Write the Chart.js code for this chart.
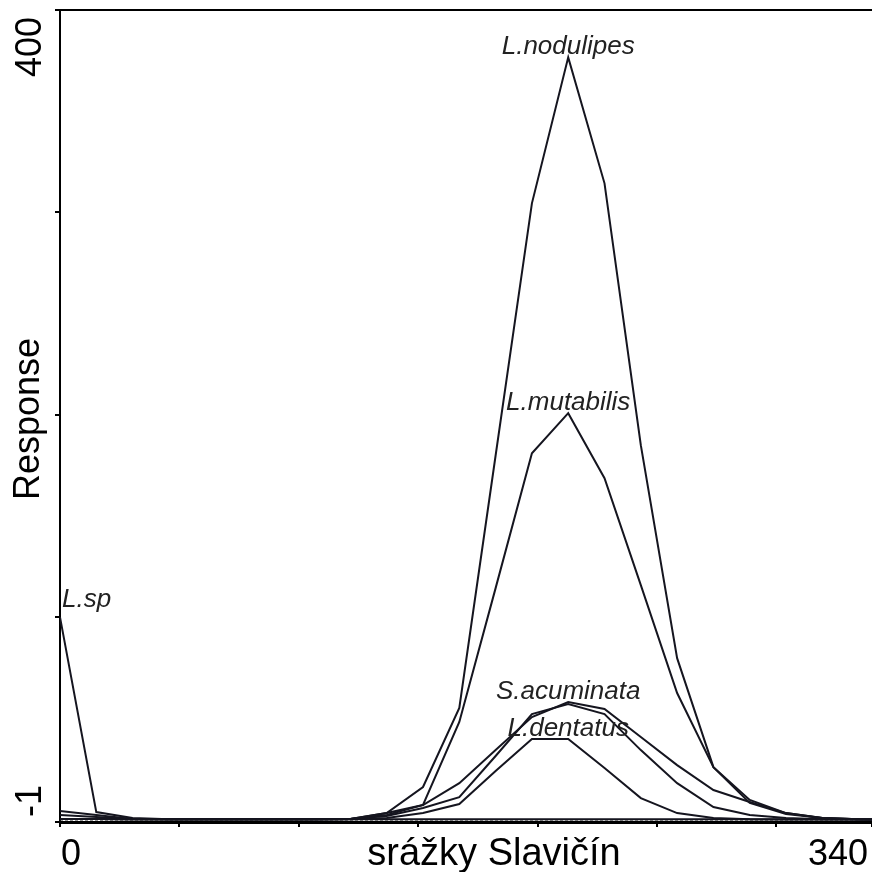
<!DOCTYPE html>
<html><head><meta charset="utf-8">
<script src="https://cdn.jsdelivr.net/npm/chart.js@4.4.1/dist/chart.umd.min.js"></script>
<style>html,body{margin:0;padding:0;background:#fff;}canvas{display:block;}</style>
</head><body>
<canvas id="c" width="872" height="872"></canvas>
<script>
// ---- data ----
const xValues = [0,15.2,30.4,45.6,60.8,76,91.2,106.4,121.6,136.8,152,167.2,182.4,197.6,212.8,228,243.2,258.4,273.6,288.8,304,319.2,334.4,340];
const nodulipes  = [0.5,0.5,0.3,0.3,0.3,0.3,0.3,0.3,0.5,3.4,16.3,55.3,180,304.5,376.6,314.4,185.1,79.9,26.1,9.9,3.4,1,0.3,0.2];
const mutabilis  = [0.5,0.5,0.3,0.3,0.3,0.3,0.3,0.3,0.5,2.5,7.4,48.4,114.5,181.1,200.9,168.8,116,62.7,26.1,8.4,2.9,1,0.3,0.2];
const acuminata  = [4.4,2.5,0.5,0.3,0.3,0.3,0.3,0.3,0.5,3.4,7.4,18.2,34.5,50.8,58.2,54.8,41,27.1,14.8,8.9,3.4,1,0.3,0.2];
const unnamed    = [2.5,1.5,0.5,0.3,0.3,0.3,0.3,0.3,0.5,2,5.9,11.3,31.6,52.3,57.2,52.3,34.5,18.2,6.4,2.5,1,0.3,0.2,0.2];
const dentatus   = [0.5,0.5,0.3,0.3,0.3,0.3,0.3,0.3,0.3,1,3.4,7.9,24.2,40,40,25.7,10.8,3.4,1,0.3,0.2,0.2,0.2,0.2];
const lsp        = [100.2,3.9,1,0.3,0.3,0.3,0.3,0.3,0.3,0.3,0.3,0.3,0.3,0.3,0.3,0.3,0.3,0.3,0.3,0.3,0.3,0.3,0.3,0.2];
const zeroLineX  = [0,340];
const zeroLineY  = [0,0];
const speciesNames = ['L.nodulipes','L.mutabilis','S.acuminata','','L.dentatus','L.sp'];
const xTicks = [0,50,100,150,200,250,300,340];
const yTicks = [-1,100,200,300,400];
const xTickLabels = ['0','340'];
const yTickLabels = ['400','-1'];
const xTitle = 'srážky Slavičín';
const yTitle = 'Response';

// ---- build ----
const seriesList = [nodulipes,mutabilis,acuminata,unnamed,dentatus,lsp];
const lineColor = '#15151f';
const toPts = (xs, ys) => xs.map((x,i)=>({x:x, y:ys[i]}));
const datasets = seriesList.map((s,i)=>({
  label: speciesNames[i],
  data: toPts(xValues, s),
  borderColor: lineColor,
  borderWidth: 2,
  pointRadius: 0,
  tension: 0,
  fill: false
}));
datasets.push({
  label: 'zero',
  data: toPts(zeroLineX, zeroLineY),
  borderColor: '#222',
  borderWidth: 1,
  borderDash: [3,2],
  pointRadius: 0,
  fill: false
});

const FONT = "'Liberation Sans', Arial, sans-serif";

const textPlugin = {
  id: 'texts',
  afterDraw(chart) {
    const ctx = chart.ctx;
    const ca = chart.chartArea;
    const xs = chart.scales.x, ys = chart.scales.y;
    ctx.save();
    // top frame line
    ctx.strokeStyle = '#000';
    ctx.lineWidth = 2;
    ctx.beginPath();
    ctx.moveTo(ca.left - 5, ca.top);
    ctx.lineTo(ca.right, ca.top);
    ctx.stroke();

    // species labels at curve maxima
    ctx.fillStyle = '#222';
    ctx.font = "italic 26px " + FONT;
    ctx.textBaseline = 'alphabetic';
    speciesNames.forEach((name, i) => {
      if (!name) return;
      const s = seriesList[i];
      let mi = 0;
      s.forEach((v,j)=>{ if (v >= s[mi]) mi = j; });
      const px = xs.getPixelForValue(xValues[mi]);
      const py = ys.getPixelForValue(s[mi]);
      const w = ctx.measureText(name).width;
      let left = px - w/2;
      let dy = 3;
      if (left < ca.left + 2) { left = ca.left + 2; dy = 10; }
      ctx.textAlign = 'left';
      ctx.fillText(name, left, py - dy);
    });

    // axis numbers & titles
    ctx.fillStyle = '#000';
    ctx.font = "36px " + FONT;
    const yb = 865;
    ctx.textAlign = 'left';
    ctx.fillText(xTickLabels[0], xs.getPixelForValue(xTicks[0]) + 1, yb);
    ctx.textAlign = 'right';
    ctx.fillText(xTickLabels[1], xs.getPixelForValue(xTicks[xTicks.length-1]) - 4, yb);
    ctx.font = "38px " + FONT;
    ctx.textAlign = 'center';
    ctx.fillText(xTitle, 494, yb);
    ctx.font = "36px " + FONT;

    const drawRot = (txt, x, y, align) => {
      ctx.save();
      ctx.translate(x, y);
      ctx.rotate(-Math.PI/2);
      ctx.textAlign = align;
      ctx.fillText(txt, 0, 0);
      ctx.restore();
    };
    drawRot(yTickLabels[0], 41, ys.getPixelForValue(400) + 7, 'right');
    drawRot(yTickLabels[1], 41, ys.getPixelForValue(-1) - 5, 'left');
    drawRot(yTitle, 39, (ca.top + ca.bottom)/2 + 3, 'center');
    ctx.restore();
  }
};

new Chart(document.getElementById('c'), {
  type: 'line',
  data: { datasets },
  options: {
    responsive: false,
    animation: false,
    devicePixelRatio: 1,
    layout: { padding: { left: 55, top: 10, right: 0, bottom: 45 } },
    plugins: { legend: { display: false }, tooltip: { enabled: false } },
    scales: {
      x: {
        type: 'linear', min: 0, max: 340,
        afterBuildTicks: (sc) => { sc.ticks = xTicks.map(v=>({value:v})); },
        ticks: { display: false },
        grid: { display: true, drawOnChartArea: false, drawTicks: true, tickLength: 5, color: '#000', lineWidth: 2 },
        border: { display: true, color: '#000', width: 3 }
      },
      y: {
        type: 'linear', min: -1, max: 400,
        afterBuildTicks: (sc) => { sc.ticks = yTicks.map(v=>({value:v})); },
        ticks: { display: false },
        grid: { display: true, drawOnChartArea: false, drawTicks: true, tickLength: 5, color: '#000', lineWidth: 2 },
        border: { display: true, color: '#000', width: 2 }
      }
    }
  },
  plugins: [textPlugin]
});
</script>
</body></html>
